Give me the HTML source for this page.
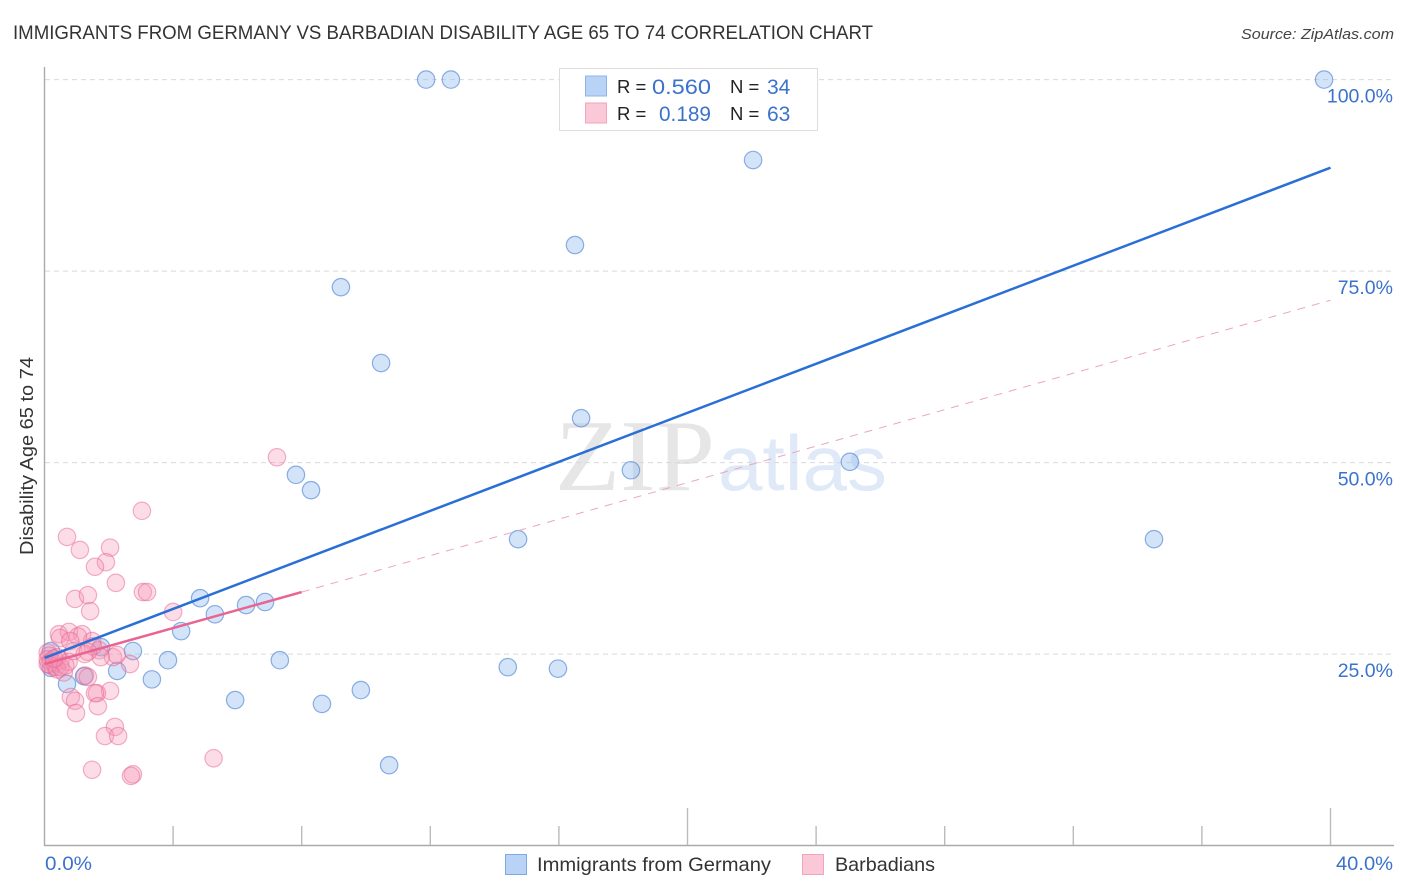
<!DOCTYPE html>
<html lang="en">
<head>
<meta charset="utf-8">
<title>Immigrants from Germany vs Barbadian Disability Age 65 to 74 Correlation Chart</title>
<style>
html,body{margin:0;padding:0;background:#fff;width:1406px;height:892px;overflow:hidden}
svg{display:block;font-family:"Liberation Sans",sans-serif}
</style>
</head>
<body>
<svg id="chart" xmlns="http://www.w3.org/2000/svg" width="1406" height="892" viewBox="0 0 1406 892">
  <text x="13" y="39" font-size="19" fill="#333" textLength="860" lengthAdjust="spacingAndGlyphs">IMMIGRANTS FROM GERMANY VS BARBADIAN DISABILITY AGE 65 TO 74 CORRELATION CHART</text>
  <text x="1394" y="39" font-size="15" font-style="italic" fill="#444" text-anchor="end" textLength="153" lengthAdjust="spacingAndGlyphs">Source: ZipAtlas.com</text>
  <g>
    <text x="555" y="490" font-family="'Liberation Serif',serif" font-size="102" fill="#e6e6e6" textLength="160" lengthAdjust="spacingAndGlyphs">ZIP</text>
    <text x="718" y="490" font-size="78" fill="#dfe9f7" textLength="169" lengthAdjust="spacingAndGlyphs">atlas</text>
  </g>
  <g id="grid"></g>
  <g id="axes"></g>
  <g id="blue-points"></g>
  <g id="pink-points"></g>
  <g id="trends"></g>
  <text transform="translate(33,456) rotate(-90)" font-size="18.5" fill="#333" text-anchor="middle" textLength="198" lengthAdjust="spacingAndGlyphs">Disability Age 65 to 74</text>
  <g>
    <rect x="559.5" y="68.5" width="258" height="62" fill="#fff" stroke="#ddd" stroke-width="1"/>
    <rect x="585.5" y="76" width="21" height="20" fill="#b8d3f5" stroke="#8db4e8" stroke-width="1"/>
    <rect x="585.5" y="103" width="21" height="20" fill="#fbc8d8" stroke="#f2a3bd" stroke-width="1"/>
    <text x="617" y="93" font-size="18.5" fill="#222">R =</text>
    <text x="652" y="94" font-size="21" fill="#3b72cc" textLength="59" lengthAdjust="spacingAndGlyphs">0.560</text>
    <text x="730" y="93" font-size="18.5" fill="#222">N =</text>
    <text x="767" y="94" font-size="21" fill="#3b72cc">34</text>
    <text x="617" y="120" font-size="18.5" fill="#222">R =</text>
    <text x="659" y="121" font-size="21" fill="#3b72cc" textLength="52" lengthAdjust="spacingAndGlyphs">0.189</text>
    <text x="730" y="120" font-size="18.5" fill="#222">N =</text>
    <text x="767" y="121" font-size="21" fill="#3b72cc">63</text>
  </g>
  <g>
    <rect x="505.5" y="854.5" width="21" height="20" fill="#b8d3f5" stroke="#7fa8e0" stroke-width="1"/>
    <text x="537" y="871" font-size="19.5" fill="#333" textLength="234" lengthAdjust="spacingAndGlyphs">Immigrants from Germany</text>
    <rect x="802.5" y="854.5" width="21" height="20" fill="#fbc8d8" stroke="#f2a3bd" stroke-width="1"/>
    <text x="835" y="871" font-size="19.5" fill="#333" textLength="100" lengthAdjust="spacingAndGlyphs">Barbadians</text>
  </g>
</svg>
<script>
var xTickValues = [0, 4, 8, 12, 16, 20, 24, 28, 32, 36, 40];
var xMajorTicks = [20, 40];
var xTickLabels = ['0.0%', '40.0%'];
var yTickValues = [25, 50, 75, 100];
var yTickLabels = ['25.0%', '50.0%', '75.0%', '100.0%'];

var germanyX = [11.87, 12.64, 39.8, 22.04, 16.5, 9.22, 10.47, 16.69, 18.24, 25.05, 7.82, 8.29, 14.73, 34.51, 4.84, 5.3, 6.27, 6.86, 4.25, 1.76, 2.75, 3.84, 7.32, 2.26, 3.34, 1.23, 0.7, 5.93, 8.63, 9.84, 10.72, 14.41, 15.97, 0.2, 0.2];
var germanyY = [100, 100, 100, 89.5, 78.4, 72.9, 63, 55.8, 49, 50.1, 48.4, 46.4, 40, 40, 32.3, 30.2, 31.4, 31.8, 28, 25.9, 25.4, 24.2, 24.2, 22.8, 21.7, 22.1, 21.1, 19, 18.5, 20.3, 10.5, 23.3, 23.1, 25.4, 23.2];

var barbadianX = [3.03, 7.23, 0.7, 1.1, 2.04, 1.91, 1.57, 2.22, 0.95, 1.35, 1.42, 3.06, 3.19, 4.0, 0.45, 0.76, 1.17, 1.48, 0.48, 1.04, 0.8, 2.13, 2.25, 2.66, 1.26, 1.35, 2.04, 1.63, 1.57, 0.82, 0.95, 1.66, 0.98, 2.19, 1.88, 2.29, 1.48, 2.75, 2.69, 5.26, 0.1, 0.15, 0.1, 0.2, 0.3, 0.15, 0.25, 0.35, 0.1, 0.4, 0.5, 0.6, 0.75, 0.9, 1.25, 1.7, 1.75, 1.5, 1.35, 0.4, 0.5, 0.65, 0.3];
var barbadianY = [43.7, 50.7, 40.3, 38.6, 38.9, 37, 36.4, 34.3, 32.2, 32.7, 30.6, 33.1, 33.1, 30.5, 27.6, 27.9, 27.6, 26.7, 27.1, 27.3, 26.7, 24.6, 24.9, 23.7, 22.2, 22, 20.2, 19.9, 19.9, 19.4, 18.9, 18.2, 17.3, 15.5, 14.3, 14.3, 9.9, 9.3, 9.1, 11.4, 25.2, 24.8, 24.3, 24, 23.8, 23.6, 23.4, 23.3, 23.7, 24.6, 24.2, 22.6, 24, 25.4, 25, 25.5, 24.6, 26, 25.3, 23, 23.3, 23.5, 24.4];

var germanyTrendX = [0, 40];
var germanyTrendY = [24.5, 88.5];
var barbadianTrendX = [0, 8];
var barbadianTrendY = [23.7, 33.1];
var barbadianDashX = [8, 40];
var barbadianDashY = [33.1, 71.2];

var NS = 'http://www.w3.org/2000/svg';
function xScale(v) { return 44.5 + v * 32.15; }
function yScale(v) { return 845.6 - v * 7.66; }
function make(tag, parent, attrs) {
  var el = document.createElementNS(NS, tag);
  for (var k in attrs) el.setAttribute(k, attrs[k]);
  parent.appendChild(el);
  return el;
}

var grid = document.getElementById('grid');
var axes = document.getElementById('axes');
var bluePts = document.getElementById('blue-points');
var pinkPts = document.getElementById('pink-points');
var trends = document.getElementById('trends');

yTickValues.forEach(function (v, i) {
  var line = make('line', grid, {x1: 45, x2: 1394, y1: yScale(v), y2: yScale(v), stroke: '#d9d9d9', 'stroke-width': 1, 'stroke-dasharray': '5 4'});
  
  
  var label = make('text', axes, {x: 1393, y: yScale(v) + 23, 'font-size': 19.5, fill: '#3b72cc', 'text-anchor': 'end'});
  label.textContent = yTickLabels[i];
  
  
});

var yAxis = make('line', axes, {x1: 44.5, x2: 44.5, y1: 67, y2: 846, stroke: '#aaa', 'stroke-width': 1.4});


var xAxis = make('line', axes, {x1: 44, x2: 1394, y1: 845.5, y2: 845.5, stroke: '#aaa', 'stroke-width': 1.4});



xTickValues.forEach(function (v) {
  if (v === 0) return;
  var top = xMajorTicks.indexOf(v) >= 0 ? 808 : 826;
  var tick = make('line', axes, {x1: xScale(v), x2: xScale(v), y1: top, y2: 845, stroke: '#bbb', 'stroke-width': 1.4});
  
  
});

var xLabelLeft = make('text', axes, {x: 45, y: 870, 'font-size': 19.5, fill: '#3b72cc', textLength: 47, lengthAdjust: 'spacingAndGlyphs'});
xLabelLeft.textContent = xTickLabels[0];


var xLabelRight = make('text', axes, {x: 1336, y: 870, 'font-size': 19.5, fill: '#3b72cc', textLength: 57, lengthAdjust: 'spacingAndGlyphs'});
xLabelRight.textContent = xTickLabels[1];



germanyX.forEach(function (v, i) {
  var c = make('circle', bluePts, {cx: xScale(v), cy: yScale(germanyY[i]), r: 8.7, fill: 'rgba(150,190,240,0.42)', stroke: 'rgba(70,125,210,0.6)', 'stroke-width': 1.2});
  
  
});
barbadianX.forEach(function (v, i) {
  var c = make('circle', pinkPts, {cx: xScale(v), cy: yScale(barbadianY[i]), r: 8.7, fill: 'rgba(245,150,180,0.32)', stroke: 'rgba(232,100,145,0.5)', 'stroke-width': 1.2});
  
  
});

var dash = make('line', trends, {x1: xScale(barbadianDashX[0]), y1: yScale(barbadianDashY[0]), x2: xScale(barbadianDashX[1]), y2: yScale(barbadianDashY[1]), stroke: '#eba6bf', 'stroke-width': 1, 'stroke-dasharray': '8 7'});


var blueLine = make('line', trends, {x1: xScale(germanyTrendX[0]), y1: yScale(germanyTrendY[0]), x2: xScale(germanyTrendX[1]), y2: yScale(germanyTrendY[1]), stroke: '#2a6fd6', 'stroke-width': 2.5});


var pinkLine = make('line', trends, {x1: xScale(barbadianTrendX[0]), y1: yScale(barbadianTrendY[0]), x2: xScale(barbadianTrendX[1]), y2: yScale(barbadianTrendY[1]), stroke: '#ea6492', 'stroke-width': 2.5});


</script>
</body>
</html>
